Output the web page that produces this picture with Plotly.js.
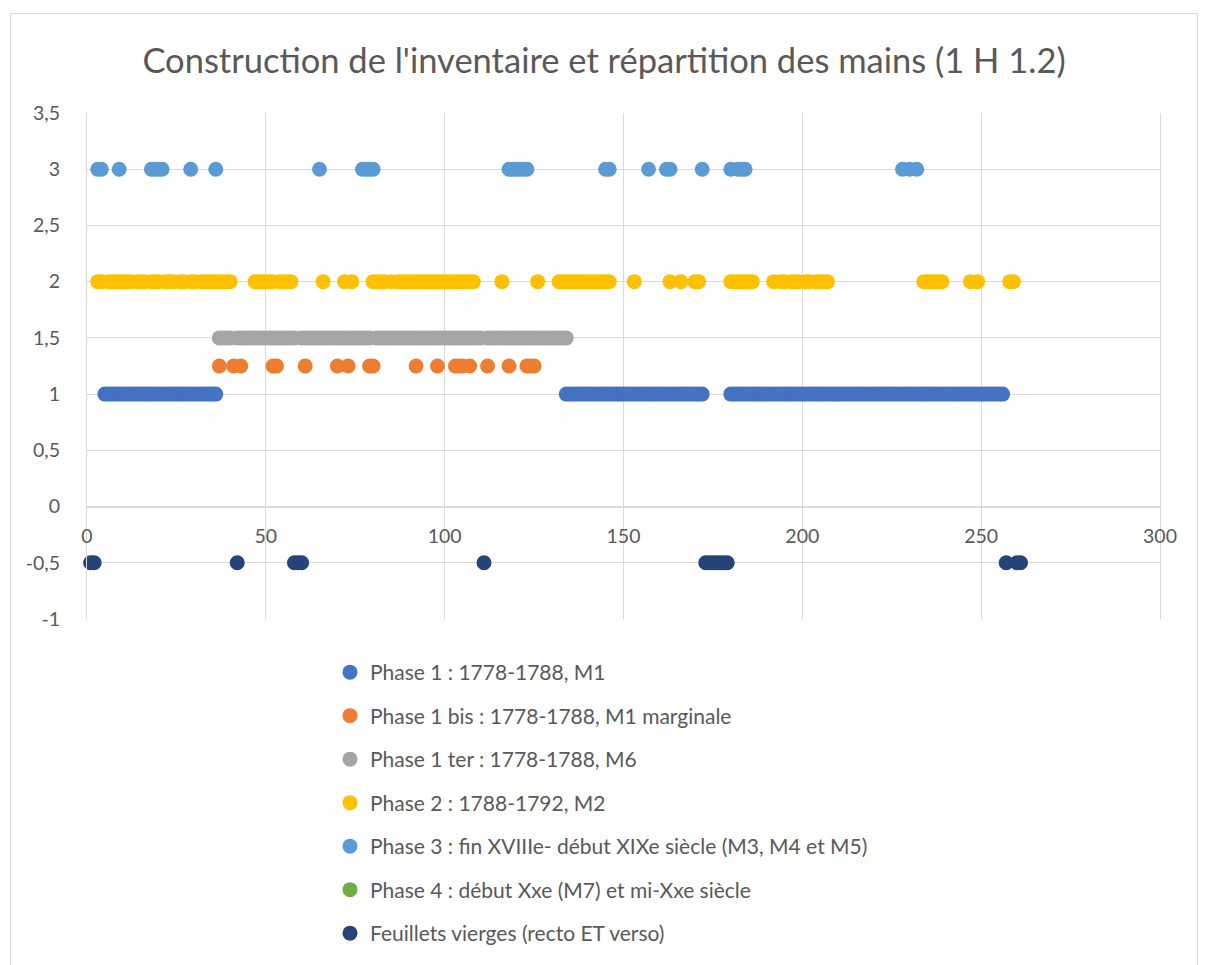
<!DOCTYPE html>
<html>
<head>
<meta charset="utf-8">
<script src="https://cdn.plot.ly/plotly-3.0.1.min.js"></script>
<style>
  html, body { margin: 0; padding: 0; background: #ffffff; }
  #chart { width: 1208px; height: 965px; }
  #frame { position: absolute; left: 10px; top: 13px; width: 1186px; height: 960px; border: 1px solid #d9d9d9; pointer-events: none; }
</style>
</head>
<body>
<div id="chart"></div>
<div id="frame"></div>
<script>
// ---- Data (folio numbers per phase) ----
const seriesNames = [
  "Phase 1 : 1778-1788, M1",
  "Phase 1 bis : 1778-1788, M1 marginale",
  "Phase 1 ter : 1778-1788, M6",
  "Phase 2 : 1788-1792, M2",
  "Phase 3 : fin XVIIIe- début XIXe siècle (M3, M4 et M5)",
  "Phase 4 : début Xxe (M7) et mi-Xxe siècle",
  "Feuillets vierges (recto ET verso)"
];
const seriesColors = ["#4472C4", "#ED7D31", "#A5A5A5", "#FFC000", "#5B9BD5", "#70AD47", "#264478"];
const seriesLevels = [1, 1.25, 1.5, 2, 3, 2.5, -0.5];

const phase1X = [5,6,7,8,9,10,11,12,13,14,15,16,17,18,19,20,21,22,23,24,25,26,27,28,29,30,31,32,33,34,35,36,
  134,135,136,137,138,139,140,141,142,143,144,145,146,147,148,149,150,151,152,153,154,155,156,157,158,159,160,161,162,163,164,165,166,167,168,169,170,171,172,
  180,181,182,183,184,185,186,187,188,189,190,191,192,193,194,195,196,197,198,199,200,201,202,203,204,205,206,207,208,209,210,211,212,213,214,215,216,217,218,219,220,221,222,223,224,225,226,227,228,229,230,231,232,233,234,235,236,237,238,239,240,241,242,243,244,245,246,247,248,249,250,251,252,253,254,255,256];
const phase1bisX = [37,41,43,52,53,61,70,73,79,80,92,98,103,104,105,107,112,118,123,124,125];
const phase1terX = [37,38,39,40,42,43,44,45,46,47,48,49,50,51,52,53,54,55,56,57,58,60,61,62,63,64,65,66,67,68,69,70,71,72,73,74,75,76,77,78,79,
  81,82,83,84,85,86,87,88,89,90,91,92,93,94,95,96,97,98,99,100,101,102,103,104,105,106,107,108,109,110,112,113,114,115,116,117,118,119,120,121,122,123,124,125,126,127,128,129,130,131,132,133,134];
const phase2X = [3,4,6,7,8,9,10,11,12,14,15,16,18,19,20,22,23,24,26,27,29,30,32,33,34,35,36,37,38,39,40,
  47,48,49,50,51,52,54,55,56,57,66,72,74,
  80,81,82,83,85,87,88,89,90,91,92,93,94,95,96,97,98,99,100,101,102,103,104,105,106,107,108,
  116,126,132,133,134,135,136,137,138,139,140,141,142,143,144,145,146,
  153,163,166,170,171,180,181,182,183,184,185,186,
  192,194,195,197,198,199,201,202,204,205,206,207,
  234,235,236,237,238,239,247,249,258,259];
const phase3X = [3,4,9,18,19,20,21,29,36,65,77,78,79,80,118,119,120,121,122,123,145,146,157,162,163,172,180,182,183,184,228,230,232];
const phase4X = [];
const blankX = [1,2,42,58,59,60,111,173,174,175,176,177,178,179,257,260,261];

const seriesX = [phase1X, phase1bisX, phase1terX, phase2X, phase3X, phase4X, blankX];

const yTickVals = [-1, -0.5, 0, 0.5, 1, 1.5, 2, 2.5, 3, 3.5];
const yTickText = ["-1", "-0,5", "0", "0,5", "1", "1,5", "2", "2,5", "3", "3,5"];
const xTickVals = [0, 50, 100, 150, 200, 250, 300];
const xTickText = ["0", "50", "100", "150", "200", "250", "300"];

// ---- Traces ----
const traces = seriesNames.map((name, i) => {
  const xs = seriesX[i].length ? seriesX[i] : [null];
  return {
    type: "scatter",
    mode: "markers",
    name: name,
    legendgroup: "g" + i,
    showlegend: true,
    x: xs,
    y: xs.map(v => (v === null ? null : seriesLevels[i])),
    marker: { color: seriesColors[i], size: 15, line: { width: 0 } },
    cliponaxis: false,
    hoverinfo: "x+y+name"
  };
});

const fontFam = "Lato, 'Open Sans', sans-serif";
const grey = "#595959";

const layout = {
  width: 1208,
  height: 965,
  paper_bgcolor: "#ffffff",
  plot_bgcolor: "#ffffff",
  margin: { l: 87, r: 48, t: 113, b: 346, autoexpand: false },
  separators: ", ",
  font: { family: fontFam, color: grey, size: 19 },
  title: {
    text: "Construction de l'inventaire et répartition des mains (1 H 1.2)",
    font: { family: fontFam, size: 34.5, color: grey },
    x: 0.5, xref: "container", xanchor: "center",
    y: 1 - 61 / 965, yref: "container", yanchor: "middle"
  },
  xaxis: {
    range: [0, 300],
    tickvals: xTickVals,
    ticktext: xTickText,
    showgrid: true,
    gridcolor: "#d9d9d9",
    gridwidth: 1,
    zeroline: false,
    showline: true,
    linecolor: "#d9d9d9",
    linewidth: 1,
    ticks: "",
    anchor: "free",
    position: 1 / 4.5,
    automargin: false,
    ticklabelstandoff: 12,
    tickfont: { family: fontFam, size: 19.5, color: grey },
    fixedrange: true
  },
  yaxis: {
    range: [-1, 3.5],
    tickvals: yTickVals,
    ticktext: yTickText,
    showgrid: true,
    gridcolor: "#d9d9d9",
    gridwidth: 1,
    zeroline: false,
    showline: true,
    mirror: true,
    linecolor: "#d9d9d9",
    linewidth: 1,
    ticks: "",
    automargin: false,
    ticklabelstandoff: 22,
    tickfont: { family: fontFam, size: 19.5, color: grey },
    fixedrange: true
  },
  showlegend: true,
  legend: {
    orientation: "v",
    x: (330 - 87) / 1073,
    xanchor: "left",
    y: (619 - 652) / 506,
    yanchor: "top",
    traceorder: "grouped",
    tracegroupgap: 13.2,
    font: { family: fontFam, size: 21, color: grey },
    itemsizing: "trace",
    bgcolor: "rgba(0,0,0,0)"
  }
};

Plotly.newPlot("chart", traces, layout, { displayModeBar: false, staticPlot: true });
</script>
</body>
</html>
